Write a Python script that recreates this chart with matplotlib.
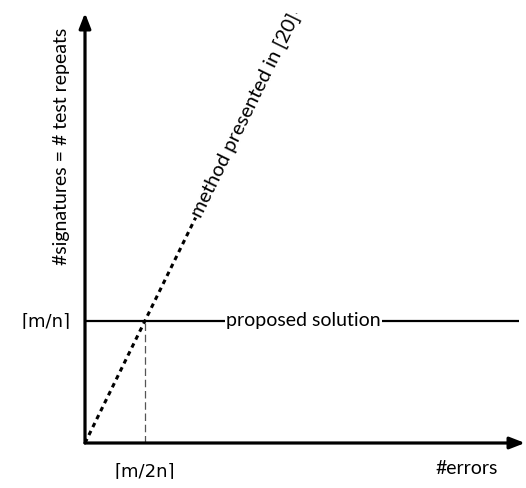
import numpy as np
import matplotlib.pyplot as plt

plt.rcParams['font.family'] = ['Lato', 'DejaVu Sans']

# sketch data (arbitrary units): proposed solution is flat at ceil(m/n),
# method from [20] grows with slope 2 and crosses it at ceil(m/2n)
m_over_n = 1.0
m_over_2n = 0.5
proposed_x = [0.0, 3.62]
proposed_y = [m_over_n, m_over_n]
method_x = [0.0, 1.76]
method_y = [0.0, 3.52]
x_max, y_max = 3.67, 3.52

fig = plt.figure(figsize=(5.26, 4.88), dpi=100)
ax = fig.add_axes([85 / 526, 45 / 488, 440 / 526, 430 / 488])
ax.set_xlim(0, x_max)
ax.set_ylim(0, y_max)
ax.axis('off')

# axes drawn as arrows
arrow = dict(arrowstyle='-|>,head_length=0.9,head_width=0.35', color='black', lw=2.3,
             shrinkA=0, shrinkB=0)
ax.annotate('', xy=(x_max, 0), xytext=(0, 0), arrowprops=arrow, annotation_clip=False)
ax.annotate('', xy=(0, y_max), xytext=(0, 0), arrowprops=arrow, annotation_clip=False)

# curves
ax.plot(proposed_x, proposed_y, color='black', lw=1.6, solid_capstyle='butt')
ax.plot(method_x, method_y, color='black', lw=2.2, linestyle=(0, (1.5, 1.4)))
ax.plot([m_over_2n, m_over_2n], [0, m_over_n], color='#555555', lw=0.9,
        linestyle=(0, (6, 3)))

# line labels (white box hides the line under the text)
ax.text(1.82, m_over_n, 'proposed solution', fontsize=14, ha='center', va='center',
        bbox=dict(facecolor='white', edgecolor='none', pad=1.0))
ax.text(1.34, 2.68, 'method presented in [20]', fontsize=14.5, ha='center', va='center',
        rotation=np.degrees(np.arctan2(2, 1)), transform_rotates_text=True,
        rotation_mode='anchor',
        bbox=dict(facecolor='white', edgecolor='none', pad=1.0))

# tick-like labels and axis titles
ceil_font = dict(family='DejaVu Sans', fontsize=13)
ax.text(-0.12, m_over_n, '⌈m/n⌉', ha='right', va='center', **ceil_font)
ax.text(m_over_2n, -0.23, '⌈m/2n⌉', ha='center', va='center', **ceil_font)
ax.text(3.18, -0.21, '#errors', fontsize=14, ha='center', va='center')
ax.text(-0.2, 2.43, '#signatures = # test repeats', fontsize=14, ha='center',
        va='center', rotation=90)

fig.savefig('out.png', dpi=100)
